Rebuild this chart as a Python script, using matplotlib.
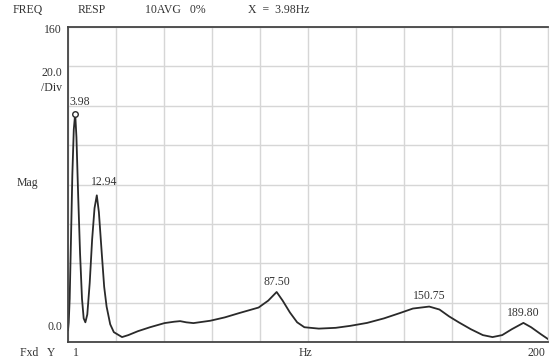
import matplotlib
matplotlib.use("Agg")
from matplotlib import pyplot as plt

# frequency response
freq = [1.0, 1.3, 1.7, 2.2, 2.8, 3.4, 3.98, 4.5, 5.2, 6.0, 6.8, 7.5, 8.2, 9.0,
        10.0, 11.0, 12.0, 12.94, 13.8, 15.0, 16.0, 17.0, 18.5, 20.0, 23.4, 26.0,
        30.0, 35.0, 41.0, 45.0, 47.5, 50.0, 53.0, 60.0, 66.0, 72.0, 80.0, 84.0,
        87.5, 90.0, 93.0, 96.0, 99.0, 105.0, 112.0, 118.0, 125.0, 132.0, 138.6,
        144.0, 150.75, 155.0, 159.0, 163.0, 168.0, 173.0, 177.0, 181.0, 185.0,
        189.8, 193.0, 197.0, 200.0]
mag = [6, 10, 22, 50, 85, 108, 116, 104, 75, 45, 22, 12, 10, 14,
       30, 52, 68, 74.5, 66, 45, 28, 18, 9, 5, 2.5, 3.5,
       5.5, 7.5, 9.6, 10.3, 10.6, 10, 9.6, 10.8, 12.5, 14.7, 17.5, 21,
       25.4, 21, 15, 10, 7.5, 6.8, 7.2, 8.2, 9.7, 12, 14.7,
       17, 18, 16.5, 13, 10, 6.5, 3.5, 2.5, 3.5, 6.5,
       9.7, 7.5, 4, 1.5]

peak_f = [12.94, 87.5, 150.75, 189.8]
peak_v = [74.5, 25.4, 18, 9.7]
peak_lbl = ["12.94", "87.50", "150.75", "189.80"]

W, H = 550, 362
fig = plt.figure(figsize=(5.5, 3.62), dpi=100)
ax = fig.add_axes([68 / W, 1 - 342 / H, 480 / W, 315 / H])

grid_c = "#d6d6d6"
ax.set_xlim(1, 200)
ax.set_ylim(0, 160)
ax.set_xticks([1 + 19.9 * i for i in range(11)])
ax.set_yticks(range(0, 161, 20))
ax.grid(True, color=grid_c, lw=1.0)
ax.tick_params(length=0, labelbottom=False, labelleft=False)
for s in ["left", "top", "bottom"]:
    ax.spines[s].set_color("#444444")
    ax.spines[s].set_linewidth(1.3)
ax.spines["right"].set_color(grid_c)

ax.plot(freq, mag, color="#2a2a2a", lw=1.3)
ax.plot([3.98], [116], marker="o", ms=4, mfc="white", mec="#2a2a2a", mew=1)

fnt = dict(family="Liberation Serif", size=8.5, color="#333333")
ax.annotate("3.98", (3.98, 116), xytext=(3, 4), textcoords="offset points",
            ha="center", va="bottom", **fnt)
ax.annotate(peak_lbl[0], (peak_f[0], peak_v[0]), xytext=(5, 5),
            textcoords="offset points", ha="center", va="bottom", **fnt)
for f, v, t in zip(peak_f[1:], peak_v[1:], peak_lbl[1:]):
    ax.annotate(t, (f, v), xytext=(0, 3), textcoords="offset points",
                ha="center", va="bottom", **fnt)


def ftxt(x, y, s, ha="left"):
    fig.text(x / W, 1 - y / H, s, ha=ha, va="center", **fnt)


ftxt(13, 10, "FREQ")
ftxt(78, 10, "RESP")
ftxt(145, 10, "10AVG   0%")
ftxt(248, 10, "X  =  3.98Hz")
ftxt(62, 30, "160", ha="right")
ftxt(62, 73, "20.0", ha="right")
ftxt(62, 88, "/Div", ha="right")
ftxt(17, 183, "Mag")
ftxt(62, 327, "0.0", ha="right")
ftxt(20, 353, "Fxd   Y")
ftxt(73, 353, "1")
ftxt(305, 353, "Hz", ha="center")
ftxt(528, 353, "200")

fig.savefig("out.png", dpi=100)
